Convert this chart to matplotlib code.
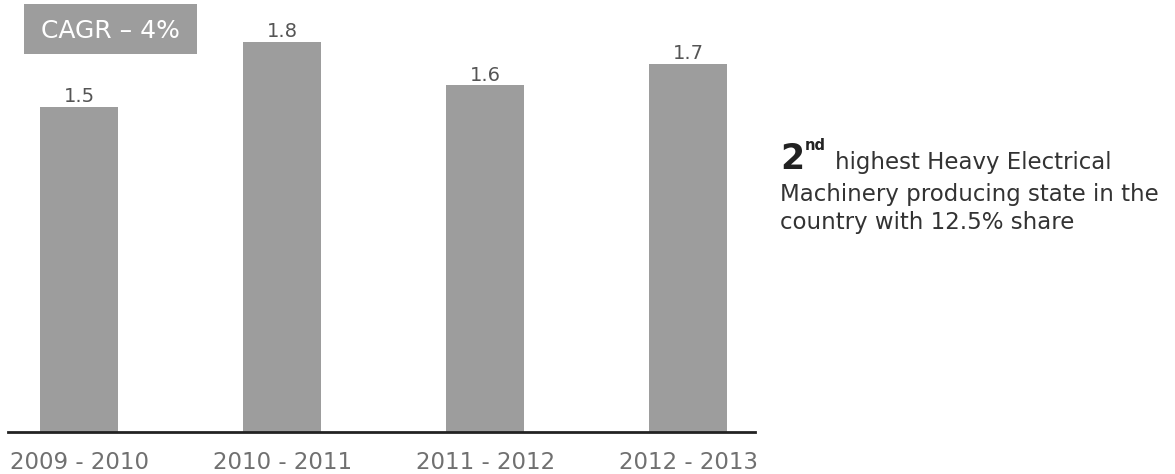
import matplotlib.pyplot as plt
from matplotlib.patches import Rectangle

periods = ["2009 - 2010", "2010 - 2011", "2011 - 2012", "2012 - 2013"]
values = [1.5, 1.8, 1.6, 1.7]
cagr_label = "CAGR \u2013 4%"
note_lines = ["highest Heavy Electrical",
              "Machinery producing state in the",
              "country with 12.5% share"]

plt.rcParams['font.family'] = ['DejaVu Sans']
BAR = '#9d9d9d'
W, H = 1175, 474

fig = plt.figure(figsize=(W / 100, H / 100), dpi=100)
ax = fig.add_axes([8 / W, 42 / H, 747 / W, 432 / H])

x = range(len(values))
bars = ax.bar(x, values, width=0.385, color=BAR)
ax.set_xlim(-0.352, 3.33)
ax.set_ylim(0, 432 / 216.7)

for b, v in zip(bars, values):
    ax.annotate(f"{v}", (b.get_x() + b.get_width() / 2, v), xytext=(0, 3.3),
                textcoords='offset points', ha='center', va='baseline',
                fontsize=14, color='#555555')

for s in ['top', 'right', 'left']:
    ax.spines[s].set_visible(False)
ax.spines['bottom'].set_linewidth(2)
ax.spines['bottom'].set_color('#222222')
ax.set_yticks([])
ax.set_xticks(list(x))
ax.set_xticklabels(periods, fontsize=16.5, color='#707070')
ax.tick_params(axis='x', length=0, pad=13.5)

# CAGR box
fig.patches.append(Rectangle((24 / W, 1 - 54 / H), 173 / W, 50 / H,
                             transform=fig.transFigure, facecolor=BAR,
                             edgecolor='none'))
fig.text(110 / W, 1 - 38 / H, cagr_label, ha='center', va='baseline',
         fontsize=18, color='white')

# side note
fig.text(780 / W, 1 - 169 / H, "2", fontsize=25, fontweight='bold',
         color='#222222', va='baseline')
fig.text(805 / W, 1 - 150 / H, "nd", fontsize=10.5, fontweight='bold',
         color='#222222', va='baseline')
fig.text(835 / W, 1 - 169 / H, note_lines[0], fontsize=16.5,
         color='#333333', va='baseline')
fig.text(780 / W, 1 - 201 / H, note_lines[1], fontsize=16.5,
         color='#333333', va='baseline')
fig.text(780 / W, 1 - 229 / H, note_lines[2], fontsize=16.5,
         color='#333333', va='baseline')

fig.savefig('out.png', dpi=100)
